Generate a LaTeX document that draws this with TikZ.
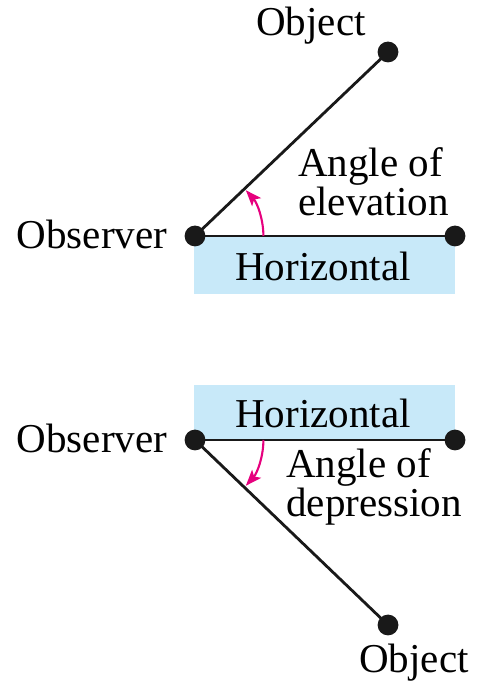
\documentclass[tikz,border=0pt]{standalone}
\usepackage{fontspec}
\setmainfont{Liberation Serif}
\usetikzlibrary{arrows.meta,positioning}
\definecolor{skyfill}{RGB}{200,233,249}
\definecolor{arcpink}{RGB}{230,0,126}

\begin{document}
\begin{tikzpicture}[x=1cm,y=1cm,>=Stealth,
    dot/.style={circle,fill=black!90,inner sep=0pt,minimum size=0.52cm},
    lbl/.style={inner sep=0pt,font=\fontsize{29.2}{27.8}\selectfont},
    ray/.style={line width=2pt,black!90},
    anglearc/.style={->,arcpink,line width=1.5pt,
      arrows={-Stealth[length=0.4cm,width=0.3cm,inset=0.09cm]}}]
  \useasboundingbox (0,0) rectangle (12.025,17.15);
  % elevation
  \fill[skyfill] (4.85,11.225) rectangle (11.375,9.8);
  \node[lbl] (hor1) at (8.075,10.5) {Horizontal};
  \node[dot] (obs1) at (4.875,11.25) {};
  \node[dot] (end1) at (11.375,11.25) {};
  \node[dot] (obj1) at (9.7,15.85) {};
  \draw[ray] (obs1.center) -- (end1.center);
  \draw[ray] (obs1.center) -- (obj1.center);
  \draw[anglearc] ([shift={(0:1.71)}]obs1.center) arc (0:42:1.71);
  \node[lbl] (obsname1) at (2.3,11.3) {Observer};
  \node[lbl] (objname1) at (7.775,16.5) {Object};
  \node[lbl,anchor=west,align=left] (elev) at (7.45,12.6) {Angle of\\elevation};
  % depression
  \fill[skyfill] (4.85,7.525) rectangle (11.375,6.15);
  \node[lbl] (hor2) at (8.075,6.825) {Horizontal};
  \node[dot] (obs2) at (4.875,6.15) {};
  \node[dot] (end2) at (11.375,6.15) {};
  \node[dot] (obj2) at (9.7,1.525) {};
  \draw[ray] (obs2.center) -- (end2.center);
  \draw[ray] (obs2.center) -- (obj2.center);
  \draw[anglearc] ([shift={(0:1.71)}]obs2.center) arc (0:-42:1.71);
  \node[lbl] (obsname2) at (2.3,6.2) {Observer};
  \node[lbl] (objname2) at (10.35,0.575) {Object};
  \node[lbl,anchor=west,align=left] (depr) at (7.15,4.975) {Angle of\\depression};
\end{tikzpicture}
\end{document}
